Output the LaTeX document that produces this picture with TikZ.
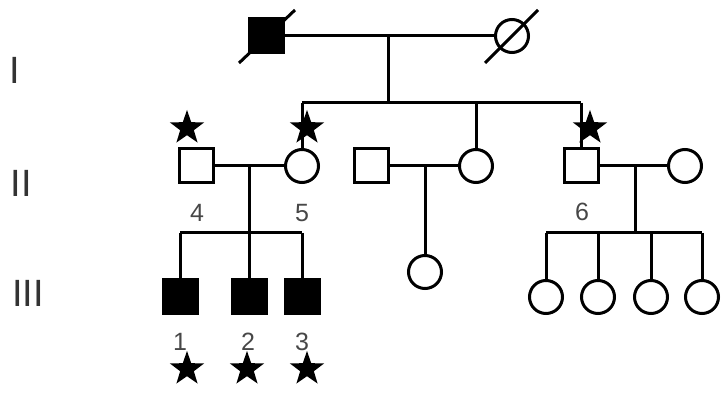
\documentclass[tikz,border=0pt]{standalone}
\usepackage{fontspec}
\setmainfont{Liberation Sans}
\usetikzlibrary{shapes.geometric}
\begin{document}
\begin{tikzpicture}[x=1pt,y=-1pt,
 male/.style={draw, rectangle, minimum size=34pt, inner sep=0pt, line width=3pt, fill=white},
 affm/.style={male, fill=black},
 female/.style={draw, circle, minimum size=33pt, inner sep=0pt, line width=3pt, fill=white},
 ln/.style={line width=3pt},
 starmark/.style={star, star points=5, star point ratio=2.5, fill=black, minimum size=36pt, inner sep=0pt},
 idlab/.style={font=\fontsize{25}{25}\selectfont, text=black!72},
 gen/.style={font=\fontsize{38}{38}\selectfont, text=black!80}]
\useasboundingbox (0,0) rectangle (721,393);
% generation labels
\node[gen] (gI) at (15,70) {I};
\node[gen] (gII) at (21,183) {II};
\node[gen] (gIII) at (28,293) {III};
% individuals
\node[affm] (I1) at (266,36) {};
\node[female] (I2) at (512,36) {};
\node[male] (n4) at (196,166) {};
\node[female] (n5) at (302,166) {};
\node[male] (n7) at (371,166) {};
\node[female] (n8) at (476,166) {};
\node[male] (n6) at (581,166) {};
\node[female] (n9) at (685,166) {};
\node[affm] (c1) at (180,296) {};
\node[affm] (c2) at (249,296) {};
\node[affm] (c3) at (302,296) {};
\node[female] (c4) at (425,272) {};
\node[female] (d1) at (546,297) {};
\node[female] (d2) at (598,297) {};
\node[female] (d3) at (651,297) {};
\node[female] (d4) at (702,297) {};
% coordinates
\coordinate (m1) at (388,36);
\coordinate (s1) at (388,103);
\coordinate (sA) at (302,103);
\coordinate (sB) at (476,103);
\coordinate (sC) at (581,103);
\coordinate (m45) at (249,166);
\coordinate (t45) at (249,233);
\coordinate (a1) at (180,233);
\coordinate (a3) at (302,233);
\coordinate (m78) at (425,166);
\coordinate (m69) at (635,166);
\coordinate (t69) at (635,233);
\coordinate (b1) at (546,233);
\coordinate (b2) at (598,233);
\coordinate (b3) at (651,233);
\coordinate (b4) at (702,233);
% lines
\draw[ln] (I1) -- (I2);
\draw[ln] (m1) -- (s1);
\draw[ln] (sA) -- (sC);
\draw[ln] (sA) -- (n5);
\draw[ln] (sB) -- (n8);
\draw[ln] (sC) -- (n6);
\draw[ln] (n4) -- (n5);
\draw[ln] (n7) -- (n8);
\draw[ln] (n6) -- (n9);
\draw[ln] (m45) -- (t45);
\draw[ln] (a1) -- (a3);
\draw[ln] (a1) -- (c1);
\draw[ln] (t45) -- (c2);
\draw[ln] (a3) -- (c3);
\draw[ln] (m78) -- (c4);
\draw[ln] (m69) -- (t69);
\draw[ln] (b1) -- (b4);
\draw[ln] (b1) -- (d1);
\draw[ln] (b2) -- (d2);
\draw[ln] (b3) -- (d3);
\draw[ln] (b4) -- (d4);
% deceased slashes
\draw[ln] ([shift={(-27,27)}]I1.center) -- ([shift={(29,-26)}]I1.center);
\draw[ln] ([shift={(-27,27)}]I2.center) -- ([shift={(26,-26)}]I2.center);
% id labels
\node[idlab] (l4) at (197,213) {4};
\node[idlab] (l5) at (302,213) {5};
\node[idlab] (l6) at (582,212) {6};
\node[idlab] (l1) at (180,342) {1};
\node[idlab] (l2) at (248,342) {2};
\node[idlab] (l3) at (302,342) {3};
% stars
\node[starmark] (st4) at (187,128) {};
\node[starmark] (st5) at (307,128) {};
\node[starmark] (st6) at (590,128) {};
\node[starmark] (st1) at (187,369) {};
\node[starmark] (st2) at (247,369) {};
\node[starmark] (st3) at (307,369) {};
\end{tikzpicture}
\end{document}
